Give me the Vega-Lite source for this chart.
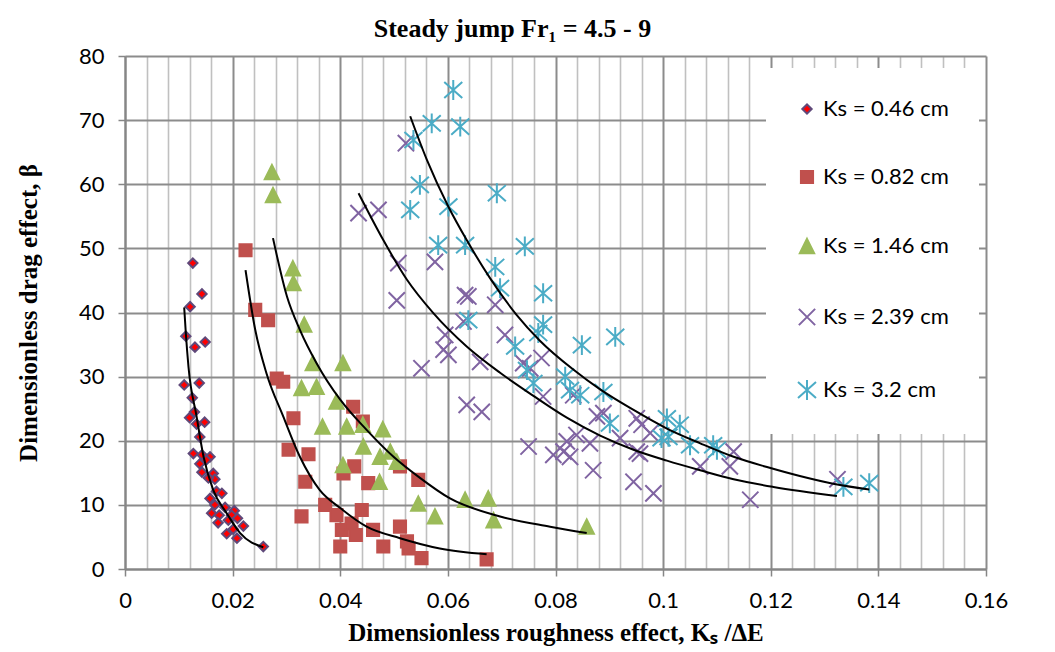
{
"$schema":"https://vega.github.io/schema/vega-lite/v6.json",
"width":861,"height":513,
"autosize":{"type":"none"},
"padding":{"left":125,"top":56,"right":69,"bottom":83},
"background":"white",
"title":{"text":"Steady jump Fr₁ = 4.5 - 9","font":"Liberation Serif","fontSize":26,"fontWeight":"bold","color":"black","anchor":"middle","frame":"group","dx":-43,"offset":3},
"config":{
"view":{"stroke":null},
"legend":{"orient":"none","legendX":641,"legendY":12,"padding":30,"fillColor":"white","labelFont":"Lato","labelFontSize":22,"labelColor":"black","rowPadding":46,"labelOffset":5,"symbolStrokeWidth":2,"symbolOpacity":1}
},
"datasets":{
"pts":[
{"s":"Ks = 0.46 cm","x":0.0126,"y":47.7},{"s":"Ks = 0.46 cm","x":0.0121,"y":40.9},{"s":"Ks = 0.46 cm","x":0.0113,"y":36.3},{"s":"Ks = 0.46 cm","x":0.0130,"y":34.6},{"s":"Ks = 0.46 cm","x":0.0149,"y":35.4},{"s":"Ks = 0.46 cm","x":0.0143,"y":42.9},{"s":"Ks = 0.46 cm","x":0.0110,"y":28.7},{"s":"Ks = 0.46 cm","x":0.0138,"y":29.0},{"s":"Ks = 0.46 cm","x":0.0125,"y":26.7},{"s":"Ks = 0.46 cm","x":0.0129,"y":24.5},{"s":"Ks = 0.46 cm","x":0.0120,"y":23.6},{"s":"Ks = 0.46 cm","x":0.0133,"y":22.6},{"s":"Ks = 0.46 cm","x":0.0148,"y":22.9},{"s":"Ks = 0.46 cm","x":0.0139,"y":20.6},{"s":"Ks = 0.46 cm","x":0.0127,"y":18.0},{"s":"Ks = 0.46 cm","x":0.0143,"y":17.8},{"s":"Ks = 0.46 cm","x":0.0158,"y":17.5},{"s":"Ks = 0.46 cm","x":0.0139,"y":16.4},{"s":"Ks = 0.46 cm","x":0.0151,"y":17.0},{"s":"Ks = 0.46 cm","x":0.0143,"y":15.1},{"s":"Ks = 0.46 cm","x":0.0164,"y":14.9},{"s":"Ks = 0.46 cm","x":0.0167,"y":14.0},{"s":"Ks = 0.46 cm","x":0.0155,"y":14.2},{"s":"Ks = 0.46 cm","x":0.0170,"y":12.1},{"s":"Ks = 0.46 cm","x":0.0180,"y":11.8},{"s":"Ks = 0.46 cm","x":0.0158,"y":11.0},{"s":"Ks = 0.46 cm","x":0.0167,"y":10.0},{"s":"Ks = 0.46 cm","x":0.0186,"y":9.6},{"s":"Ks = 0.46 cm","x":0.0203,"y":9.1},{"s":"Ks = 0.46 cm","x":0.0161,"y":8.7},{"s":"Ks = 0.46 cm","x":0.0175,"y":8.4},{"s":"Ks = 0.46 cm","x":0.0198,"y":8.4},{"s":"Ks = 0.46 cm","x":0.0209,"y":7.9},{"s":"Ks = 0.46 cm","x":0.0173,"y":7.2},{"s":"Ks = 0.46 cm","x":0.0192,"y":7.6},{"s":"Ks = 0.46 cm","x":0.0220,"y":6.7},{"s":"Ks = 0.46 cm","x":0.0201,"y":6.2},{"s":"Ks = 0.46 cm","x":0.0189,"y":5.5},{"s":"Ks = 0.46 cm","x":0.0208,"y":4.8},{"s":"Ks = 0.46 cm","x":0.0257,"y":3.5},
{"s":"Ks = 0.82 cm","x":0.0224,"y":49.7},{"s":"Ks = 0.82 cm","x":0.0242,"y":40.4},{"s":"Ks = 0.82 cm","x":0.0266,"y":38.8},{"s":"Ks = 0.82 cm","x":0.0282,"y":29.7},{"s":"Ks = 0.82 cm","x":0.0294,"y":29.2},{"s":"Ks = 0.82 cm","x":0.0313,"y":23.5},{"s":"Ks = 0.82 cm","x":0.0304,"y":18.6},{"s":"Ks = 0.82 cm","x":0.0341,"y":17.9},{"s":"Ks = 0.82 cm","x":0.0335,"y":13.6},{"s":"Ks = 0.82 cm","x":0.0328,"y":8.2},{"s":"Ks = 0.82 cm","x":0.0424,"y":25.3},{"s":"Ks = 0.82 cm","x":0.0442,"y":23.0},{"s":"Ks = 0.82 cm","x":0.0406,"y":14.9},{"s":"Ks = 0.82 cm","x":0.0426,"y":16.0},{"s":"Ks = 0.82 cm","x":0.0452,"y":13.4},{"s":"Ks = 0.82 cm","x":0.0372,"y":10.0},{"s":"Ks = 0.82 cm","x":0.0393,"y":8.4},{"s":"Ks = 0.82 cm","x":0.0440,"y":9.2},{"s":"Ks = 0.82 cm","x":0.0403,"y":6.1},{"s":"Ks = 0.82 cm","x":0.0400,"y":3.5},{"s":"Ks = 0.82 cm","x":0.0421,"y":7.1},{"s":"Ks = 0.82 cm","x":0.0461,"y":6.1},{"s":"Ks = 0.82 cm","x":0.0480,"y":3.5},{"s":"Ks = 0.82 cm","x":0.0511,"y":6.6},{"s":"Ks = 0.82 cm","x":0.0527,"y":3.2},{"s":"Ks = 0.82 cm","x":0.0511,"y":16.0},{"s":"Ks = 0.82 cm","x":0.0545,"y":13.9},{"s":"Ks = 0.82 cm","x":0.0524,"y":4.3},{"s":"Ks = 0.82 cm","x":0.0551,"y":1.7},{"s":"Ks = 0.82 cm","x":0.0672,"y":1.5},{"s":"Ks = 0.82 cm","x":0.0429,"y":5.3},
{"s":"Ks = 1.46 cm","x":0.0273,"y":61.9},{"s":"Ks = 1.46 cm","x":0.0275,"y":58.3},{"s":"Ks = 1.46 cm","x":0.0312,"y":46.9},{"s":"Ks = 1.46 cm","x":0.0313,"y":44.6},{"s":"Ks = 1.46 cm","x":0.0333,"y":38.1},{"s":"Ks = 1.46 cm","x":0.0349,"y":32.1},{"s":"Ks = 1.46 cm","x":0.0405,"y":32.1},{"s":"Ks = 1.46 cm","x":0.0328,"y":28.2},{"s":"Ks = 1.46 cm","x":0.0356,"y":28.4},{"s":"Ks = 1.46 cm","x":0.0393,"y":26.1},{"s":"Ks = 1.46 cm","x":0.0367,"y":22.2},{"s":"Ks = 1.46 cm","x":0.0412,"y":22.2},{"s":"Ks = 1.46 cm","x":0.0442,"y":22.5},{"s":"Ks = 1.46 cm","x":0.0479,"y":21.8},{"s":"Ks = 1.46 cm","x":0.0443,"y":19.1},{"s":"Ks = 1.46 cm","x":0.0474,"y":17.5},{"s":"Ks = 1.46 cm","x":0.0493,"y":18.3},{"s":"Ks = 1.46 cm","x":0.0505,"y":16.7},{"s":"Ks = 1.46 cm","x":0.0405,"y":16.2},{"s":"Ks = 1.46 cm","x":0.0473,"y":13.6},{"s":"Ks = 1.46 cm","x":0.0545,"y":10.2},{"s":"Ks = 1.46 cm","x":0.0576,"y":8.2},{"s":"Ks = 1.46 cm","x":0.0632,"y":10.8},{"s":"Ks = 1.46 cm","x":0.0675,"y":11.0},{"s":"Ks = 1.46 cm","x":0.0685,"y":7.6},{"s":"Ks = 1.46 cm","x":0.0858,"y":6.6},
{"s":"Ks = 2.39 cm","x":0.0522,"y":66.4},{"s":"Ks = 2.39 cm","x":0.0434,"y":55.5},{"s":"Ks = 2.39 cm","x":0.0471,"y":56.0},{"s":"Ks = 2.39 cm","x":0.0508,"y":47.7},{"s":"Ks = 2.39 cm","x":0.0576,"y":47.9},{"s":"Ks = 2.39 cm","x":0.0505,"y":41.9},{"s":"Ks = 2.39 cm","x":0.0632,"y":42.7},{"s":"Ks = 2.39 cm","x":0.0638,"y":42.5},{"s":"Ks = 2.39 cm","x":0.0688,"y":41.2},{"s":"Ks = 2.39 cm","x":0.0629,"y":38.6},{"s":"Ks = 2.39 cm","x":0.0595,"y":36.5},{"s":"Ks = 2.39 cm","x":0.0706,"y":36.5},{"s":"Ks = 2.39 cm","x":0.0592,"y":34.2},{"s":"Ks = 2.39 cm","x":0.0601,"y":33.4},{"s":"Ks = 2.39 cm","x":0.0551,"y":31.3},{"s":"Ks = 2.39 cm","x":0.0660,"y":32.3},{"s":"Ks = 2.39 cm","x":0.0740,"y":32.1},{"s":"Ks = 2.39 cm","x":0.0753,"y":31.3},{"s":"Ks = 2.39 cm","x":0.0774,"y":32.9},{"s":"Ks = 2.39 cm","x":0.0635,"y":25.6},{"s":"Ks = 2.39 cm","x":0.0663,"y":24.5},{"s":"Ks = 2.39 cm","x":0.0777,"y":26.9},{"s":"Ks = 2.39 cm","x":0.0750,"y":19.1},{"s":"Ks = 2.39 cm","x":0.0796,"y":17.8},{"s":"Ks = 2.39 cm","x":0.0815,"y":18.3},{"s":"Ks = 2.39 cm","x":0.0827,"y":17.5},{"s":"Ks = 2.39 cm","x":0.0821,"y":19.9},{"s":"Ks = 2.39 cm","x":0.0839,"y":20.9},{"s":"Ks = 2.39 cm","x":0.0864,"y":19.6},{"s":"Ks = 2.39 cm","x":0.0870,"y":15.4},{"s":"Ks = 2.39 cm","x":0.0877,"y":23.8},{"s":"Ks = 2.39 cm","x":0.0833,"y":27.1},{"s":"Ks = 2.39 cm","x":0.0889,"y":24.3},{"s":"Ks = 2.39 cm","x":0.0951,"y":23.5},{"s":"Ks = 2.39 cm","x":0.0960,"y":22.5},{"s":"Ks = 2.39 cm","x":0.0920,"y":20.4},{"s":"Ks = 2.39 cm","x":0.0951,"y":18.3},{"s":"Ks = 2.39 cm","x":0.0957,"y":18.0},{"s":"Ks = 2.39 cm","x":0.0976,"y":21.2},{"s":"Ks = 2.39 cm","x":0.0945,"y":13.6},{"s":"Ks = 2.39 cm","x":0.0982,"y":11.8},{"s":"Ks = 2.39 cm","x":0.1069,"y":16.0},{"s":"Ks = 2.39 cm","x":0.1124,"y":16.0},{"s":"Ks = 2.39 cm","x":0.1131,"y":18.3},{"s":"Ks = 2.39 cm","x":0.1162,"y":10.8},{"s":"Ks = 2.39 cm","x":0.1324,"y":14.0},
{"s":"Ks = 3.2 cm","x":0.0610,"y":74.7},{"s":"Ks = 3.2 cm","x":0.0570,"y":69.5},{"s":"Ks = 3.2 cm","x":0.0623,"y":69.0},{"s":"Ks = 3.2 cm","x":0.0536,"y":66.9},{"s":"Ks = 3.2 cm","x":0.0548,"y":59.9},{"s":"Ks = 3.2 cm","x":0.0691,"y":58.6},{"s":"Ks = 3.2 cm","x":0.0530,"y":56.0},{"s":"Ks = 3.2 cm","x":0.0601,"y":56.5},{"s":"Ks = 3.2 cm","x":0.0582,"y":50.5},{"s":"Ks = 3.2 cm","x":0.0632,"y":50.5},{"s":"Ks = 3.2 cm","x":0.0743,"y":50.3},{"s":"Ks = 3.2 cm","x":0.0688,"y":47.1},{"s":"Ks = 3.2 cm","x":0.0697,"y":43.8},{"s":"Ks = 3.2 cm","x":0.0777,"y":43.0},{"s":"Ks = 3.2 cm","x":0.0638,"y":38.8},{"s":"Ks = 3.2 cm","x":0.0777,"y":38.1},{"s":"Ks = 3.2 cm","x":0.0768,"y":36.8},{"s":"Ks = 3.2 cm","x":0.0725,"y":34.7},{"s":"Ks = 3.2 cm","x":0.0849,"y":34.9},{"s":"Ks = 3.2 cm","x":0.0911,"y":36.2},{"s":"Ks = 3.2 cm","x":0.0747,"y":31.0},{"s":"Ks = 3.2 cm","x":0.0759,"y":29.0},{"s":"Ks = 3.2 cm","x":0.0818,"y":30.0},{"s":"Ks = 3.2 cm","x":0.0827,"y":27.9},{"s":"Ks = 3.2 cm","x":0.0846,"y":27.1},{"s":"Ks = 3.2 cm","x":0.0889,"y":27.6},{"s":"Ks = 3.2 cm","x":0.0901,"y":22.7},{"s":"Ks = 3.2 cm","x":0.1007,"y":23.5},{"s":"Ks = 3.2 cm","x":0.1031,"y":22.5},{"s":"Ks = 3.2 cm","x":0.0997,"y":20.4},{"s":"Ks = 3.2 cm","x":0.1010,"y":20.6},{"s":"Ks = 3.2 cm","x":0.1050,"y":19.3},{"s":"Ks = 3.2 cm","x":0.1093,"y":19.3},{"s":"Ks = 3.2 cm","x":0.1100,"y":18.6},{"s":"Ks = 3.2 cm","x":0.1335,"y":12.8},{"s":"Ks = 3.2 cm","x":0.1383,"y":13.4}
],
"fits":[
{"c":"a","x":0.0110,"y":40.8},{"c":"a","x":0.0113,"y":36.8},{"c":"a","x":0.0118,"y":31.5},{"c":"a","x":0.0133,"y":23.8},{"c":"a","x":0.0146,"y":17.5},{"c":"a","x":0.0164,"y":12.3},{"c":"a","x":0.0189,"y":8.7},{"c":"a","x":0.0214,"y":5.6},{"c":"a","x":0.0257,"y":3.4},
{"c":"b","x":0.0224,"y":46.6},{"c":"b","x":0.0242,"y":37.3},{"c":"b","x":0.0263,"y":30.5},{"c":"b","x":0.0294,"y":23.8},{"c":"b","x":0.0325,"y":17.5},{"c":"b","x":0.0362,"y":12.3},{"c":"b","x":0.0400,"y":9.5},{"c":"b","x":0.0449,"y":6.6},{"c":"b","x":0.0511,"y":4.8},{"c":"b","x":0.0585,"y":3.2},{"c":"b","x":0.0672,"y":2.3},
{"c":"c","x":0.0275,"y":51.6},{"c":"c","x":0.0301,"y":42.5},{"c":"c","x":0.0325,"y":37.3},{"c":"c","x":0.0356,"y":32.1},{"c":"c","x":0.0400,"y":26.4},{"c":"c","x":0.0449,"y":21.7},{"c":"c","x":0.0499,"y":17.5},{"c":"c","x":0.0545,"y":14.4},{"c":"c","x":0.0604,"y":11.0},{"c":"c","x":0.0697,"y":8.2},{"c":"c","x":0.0790,"y":6.6},{"c":"c","x":0.0858,"y":5.6},
{"c":"d","x":0.0434,"y":58.6},{"c":"d","x":0.0480,"y":51.3},{"c":"d","x":0.0524,"y":45.1},{"c":"d","x":0.0573,"y":39.9},{"c":"d","x":0.0635,"y":34.7},{"c":"d","x":0.0697,"y":30.6},{"c":"d","x":0.0759,"y":27.0},{"c":"d","x":0.0821,"y":23.6},{"c":"d","x":0.0883,"y":20.8},{"c":"d","x":0.0945,"y":18.6},{"c":"d","x":0.1007,"y":16.9},{"c":"d","x":0.1069,"y":15.4},{"c":"d","x":0.1131,"y":14.0},{"c":"d","x":0.1205,"y":12.8},{"c":"d","x":0.1323,"y":11.4},
{"c":"e","x":0.0530,"y":70.6},{"c":"e","x":0.0561,"y":63.8},{"c":"e","x":0.0601,"y":56.5},{"c":"e","x":0.0635,"y":51.3},{"c":"e","x":0.0678,"y":45.4},{"c":"e","x":0.0728,"y":39.6},{"c":"e","x":0.0771,"y":35.6},{"c":"e","x":0.0833,"y":31.1},{"c":"e","x":0.0883,"y":28.0},{"c":"e","x":0.0945,"y":24.8},{"c":"e","x":0.1007,"y":21.9},{"c":"e","x":0.1069,"y":19.6},{"c":"e","x":0.1131,"y":17.5},{"c":"e","x":0.1193,"y":15.9},{"c":"e","x":0.1254,"y":14.5},{"c":"e","x":0.1316,"y":13.3},{"c":"e","x":0.1383,"y":12.4}
]
},
"encoding":{
"x":{"field":"x","type":"quantitative","scale":{"domain":[0,0.16],"nice":false,"zero":false},
"axis":{"values":[0,0.004,0.008,0.012,0.016,0.02,0.024,0.028,0.032,0.036,0.04,0.044,0.048,0.052,0.056,0.06,0.064,0.068,0.072,0.076,0.08,0.084,0.088,0.092,0.096,0.1,0.104,0.108,0.112,0.116,0.12,0.124,0.128,0.132,0.136,0.14,0.144,0.148,0.152,0.156,0.16],
"grid":true,
"gridColor":{"condition":{"test":"abs(datum.value*50-round(datum.value*50))<0.01","value":"#8c8c8c"},"value":"#c0c0c0"},
"gridWidth":{"condition":{"test":"abs(datum.value*50-round(datum.value*50))<0.01","value":2},"value":1.6},
"tickColor":{"condition":{"test":"abs(datum.value*50-round(datum.value*50))<0.01","value":"#868686"},"value":"transparent"},
"tickSize":7,"tickWidth":1.5,"domainColor":"#868686","domainWidth":2,
"labelExpr":"abs(datum.value*50-round(datum.value*50))<0.01 ? format(datum.value,'~g') : ''",
"labelOverlap":false,"labelFlush":false,"labelFont":"Lato","labelFontSize":22,"labelColor":"black","labelPadding":14,
"title":"Dimensionless roughness effect, Kₛ /ΔE","titleFont":"Liberation Serif","titleFontSize":25,"titleFontWeight":"bold","titleColor":"black","titlePadding":9}},
"y":{"field":"y","type":"quantitative","scale":{"domain":[0,80],"nice":false,"zero":false},
"axis":{"values":[0,10,20,30,40,50,60,70,80],"grid":true,"gridColor":"#8c8c8c","gridWidth":2,"tickColor":"#868686","tickSize":7,"tickWidth":1.5,"domainColor":"#868686","domainWidth":2,
"labelFont":"Lato","labelFontSize":22,"labelColor":"black","labelPadding":14,"labelOverlap":false,"labelFlush":false,
"title":"Dimensionless drag effect, β","titleFont":"Liberation Serif","titleFontSize":25,"titleFontWeight":"bold","titleColor":"black","titlePadding":37}}
},
"layer":[
{"data":{"name":"pts"},
"mark":{"type":"point","filled":true,"opacity":1,"strokeWidth":2},
"encoding":{
"color":{"field":"s","type":"nominal","title":null,"scale":{"domain":["Ks = 0.46 cm","Ks = 0.82 cm","Ks = 1.46 cm","Ks = 2.39 cm","Ks = 3.2 cm"],"range":["#FF0000","#C0504D","#9BBB59","transparent","transparent"]}},
"stroke":{"field":"s","type":"nominal","title":null,"scale":{"domain":["Ks = 0.46 cm","Ks = 0.82 cm","Ks = 1.46 cm","Ks = 2.39 cm","Ks = 3.2 cm"],"range":["#5F497A","#C0504D","#9BBB59","#8064A2","#4BACC6"]}},
"shape":{"field":"s","type":"nominal","title":null,"scale":{"domain":["Ks = 0.46 cm","Ks = 0.82 cm","Ks = 1.46 cm","Ks = 2.39 cm","Ks = 3.2 cm"],"range":["diamond","square","M0,-1L1,1L-1,1Z","M-1,-1L1,1M-1,1L1,-1","M-1,-0.9L1,0.9M-1,0.9L1,-0.9M0,-1.1L0,1.1"]}},
"size":{"field":"s","type":"nominal","title":null,"scale":{"domain":["Ks = 0.46 cm","Ks = 0.82 cm","Ks = 1.46 cm","Ks = 2.39 cm","Ks = 3.2 cm"],"range":[88,324,289,324,324]}}
}},
{"data":{"name":"fits"},
"mark":{"type":"line","color":"black","strokeWidth":2,"interpolate":"monotone"},
"encoding":{"detail":{"field":"c","type":"nominal"}}}
]
}
